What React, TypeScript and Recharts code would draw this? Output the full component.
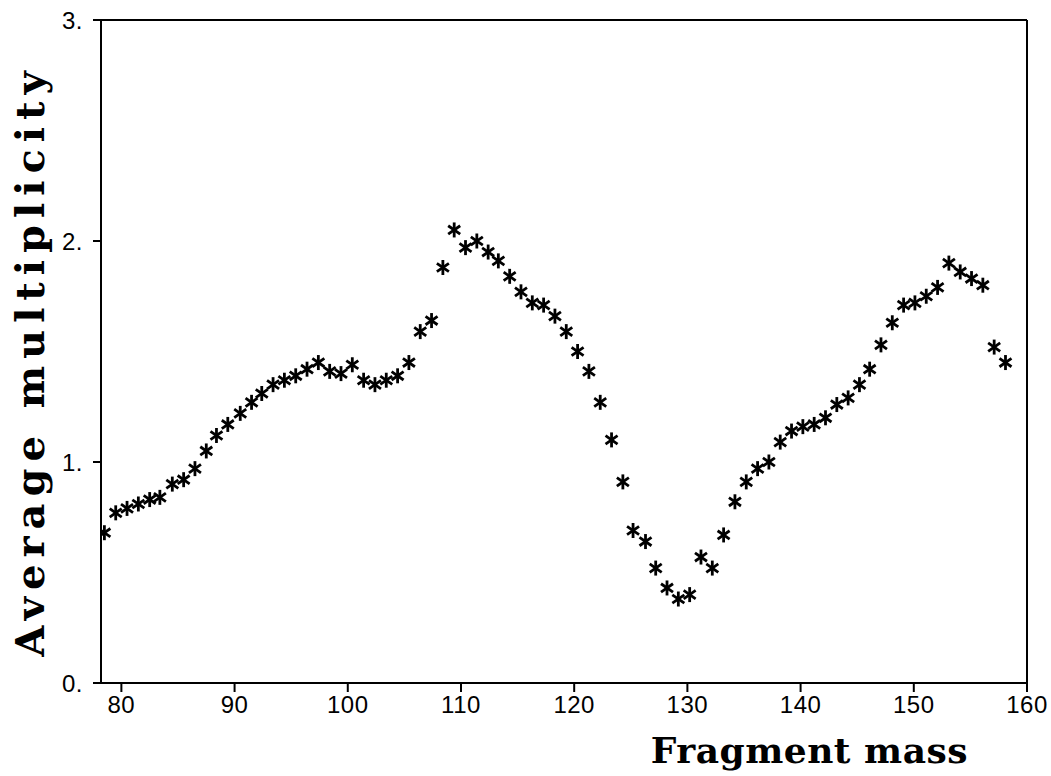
import React from 'react';
import { ScatterChart, Scatter, XAxis, YAxis, ReferenceLine, Label } from 'recharts';

const masses = [
  78.5, 79.5, 80.5, 81.5, 82.5, 83.4, 84.5, 85.5, 86.5, 87.5,
  88.4, 89.4, 90.5, 91.5, 92.4, 93.4, 94.4, 95.4, 96.4, 97.4,
  98.4, 99.4, 100.4, 101.4, 102.4, 103.4, 104.4, 105.4, 106.4, 107.4,
  108.4, 109.4, 110.4, 111.4, 112.4, 113.3, 114.3, 115.3, 116.3, 117.3,
  118.3, 119.3, 120.3, 121.3, 122.3, 123.3, 124.3, 125.2, 126.3, 127.2,
  128.2, 129.2, 130.2, 131.2, 132.2, 133.2, 134.2, 135.2, 136.2, 137.2,
  138.2, 139.2, 140.2, 141.2, 142.2, 143.2, 144.2, 145.2, 146.1, 147.1,
  148.1, 149.1, 150.1, 151.1, 152.1, 153.1, 154.1, 155.1, 156.1, 157.1,
  158.1,
];

const multiplicity = [
  0.68, 0.77, 0.79, 0.81, 0.83, 0.84, 0.9, 0.92, 0.97, 1.05,
  1.12, 1.17, 1.22, 1.27, 1.31, 1.35, 1.37, 1.39, 1.42, 1.45,
  1.41, 1.4, 1.44, 1.37, 1.35, 1.37, 1.39, 1.45, 1.59, 1.64,
  1.88, 2.05, 1.97, 2.0, 1.95, 1.91, 1.84, 1.77, 1.72, 1.71,
  1.66, 1.59, 1.5, 1.41, 1.27, 1.1, 0.91, 0.69, 0.64, 0.52,
  0.43, 0.38, 0.4, 0.57, 0.52, 0.67, 0.82, 0.91, 0.97, 1.0,
  1.09, 1.14, 1.16, 1.17, 1.2, 1.26, 1.29, 1.35, 1.42, 1.53,
  1.63, 1.71, 1.72, 1.75, 1.79, 1.9, 1.86, 1.83, 1.8, 1.52,
  1.45,
];

const xTicks = [80, 90, 100, 110, 120, 130, 140, 150, 160];
const yTicks = [0, 1, 2, 3];
const xTitle = 'Fragment mass';
const yTitle = 'Average multiplicity';

const data = masses.map((m, i) => ({ m, v: multiplicity[i] }));

const Star = (props: any) => {
  const { cx, cy } = props;
  if (cx == null || cy == null) return null;
  return (
    <g stroke="#000" strokeWidth={2.8} strokeLinecap="butt">
      <line x1={cx} y1={cy - 7.5} x2={cx} y2={cy + 7.5} />
      <line x1={cx - 6} y1={cy - 4.2} x2={cx + 6} y2={cy + 4.2} />
      <line x1={cx - 6} y1={cy + 4.2} x2={cx + 6} y2={cy - 4.2} />
    </g>
  );
};

const tickFont = {
  fill: '#000',
  fontSize: 24,
  letterSpacing: 0.5,
  fontFamily: '"Liberation Sans", Arial, sans-serif',
};
const titleFont = '"DejaVu Serif", serif';

export default function App() {
  return (
    <div style={{ position: 'absolute', left: 0, top: 0, width: 1051, height: 776, background: '#fff' }}>
      <ScatterChart width={1051} height={776} margin={{ top: 20, right: 24, bottom: 0, left: 0 }}>
        <XAxis
          type="number"
          dataKey="m"
          domain={[78.2, 160]}
          ticks={xTicks}
          allowDataOverflow
          height={93}
          axisLine={{ stroke: '#000', strokeWidth: 2 }}
          tickLine={{ stroke: '#000', strokeWidth: 2 }}
          tickSize={9}
          tickMargin={4}
          tick={tickFont}
        >
          <Label
            content={(p: any) => {
              const vb = p.viewBox;
              return (
                <text
                  x={vb.x + vb.width - 59}
                  y={vb.y + 80}
                  textAnchor="end"
                  fontFamily={titleFont}
                  fontWeight="bold"
                  fontSize={36}
                  letterSpacing={0.5}
                  fill="#000"
                >
                  {xTitle}
                </text>
              );
            }}
          />
        </XAxis>
        <YAxis
          type="number"
          dataKey="v"
          domain={[0, 3]}
          ticks={yTicks}
          allowDataOverflow
          width={101}
          axisLine={{ stroke: '#000', strokeWidth: 2 }}
          tickLine={{ stroke: '#000', strokeWidth: 2 }}
          tickSize={8}
          tickMargin={10}
          tick={tickFont}
          tickFormatter={(v: number) => `${v}.`}
        >
          <Label
            content={(p: any) => {
              const vb = p.viewBox;
              const cy = vb.y + vb.height / 2 + 9;
              return (
                <text
                  x={44}
                  y={cy}
                  transform={`rotate(-90 44 ${cy})`}
                  textAnchor="middle"
                  fontFamily={titleFont}
                  fontWeight="bold"
                  fontSize={40}
                  letterSpacing={7}
                  fill="#000"
                >
                  {yTitle}
                </text>
              );
            }}
          />
        </YAxis>
        <ReferenceLine x={160} stroke="#000" strokeWidth={2} />
        <ReferenceLine y={3} stroke="#000" strokeWidth={2} />
        <Scatter data={data} shape={Star} isAnimationActive={false} />
      </ScatterChart>
    </div>
  );
}
